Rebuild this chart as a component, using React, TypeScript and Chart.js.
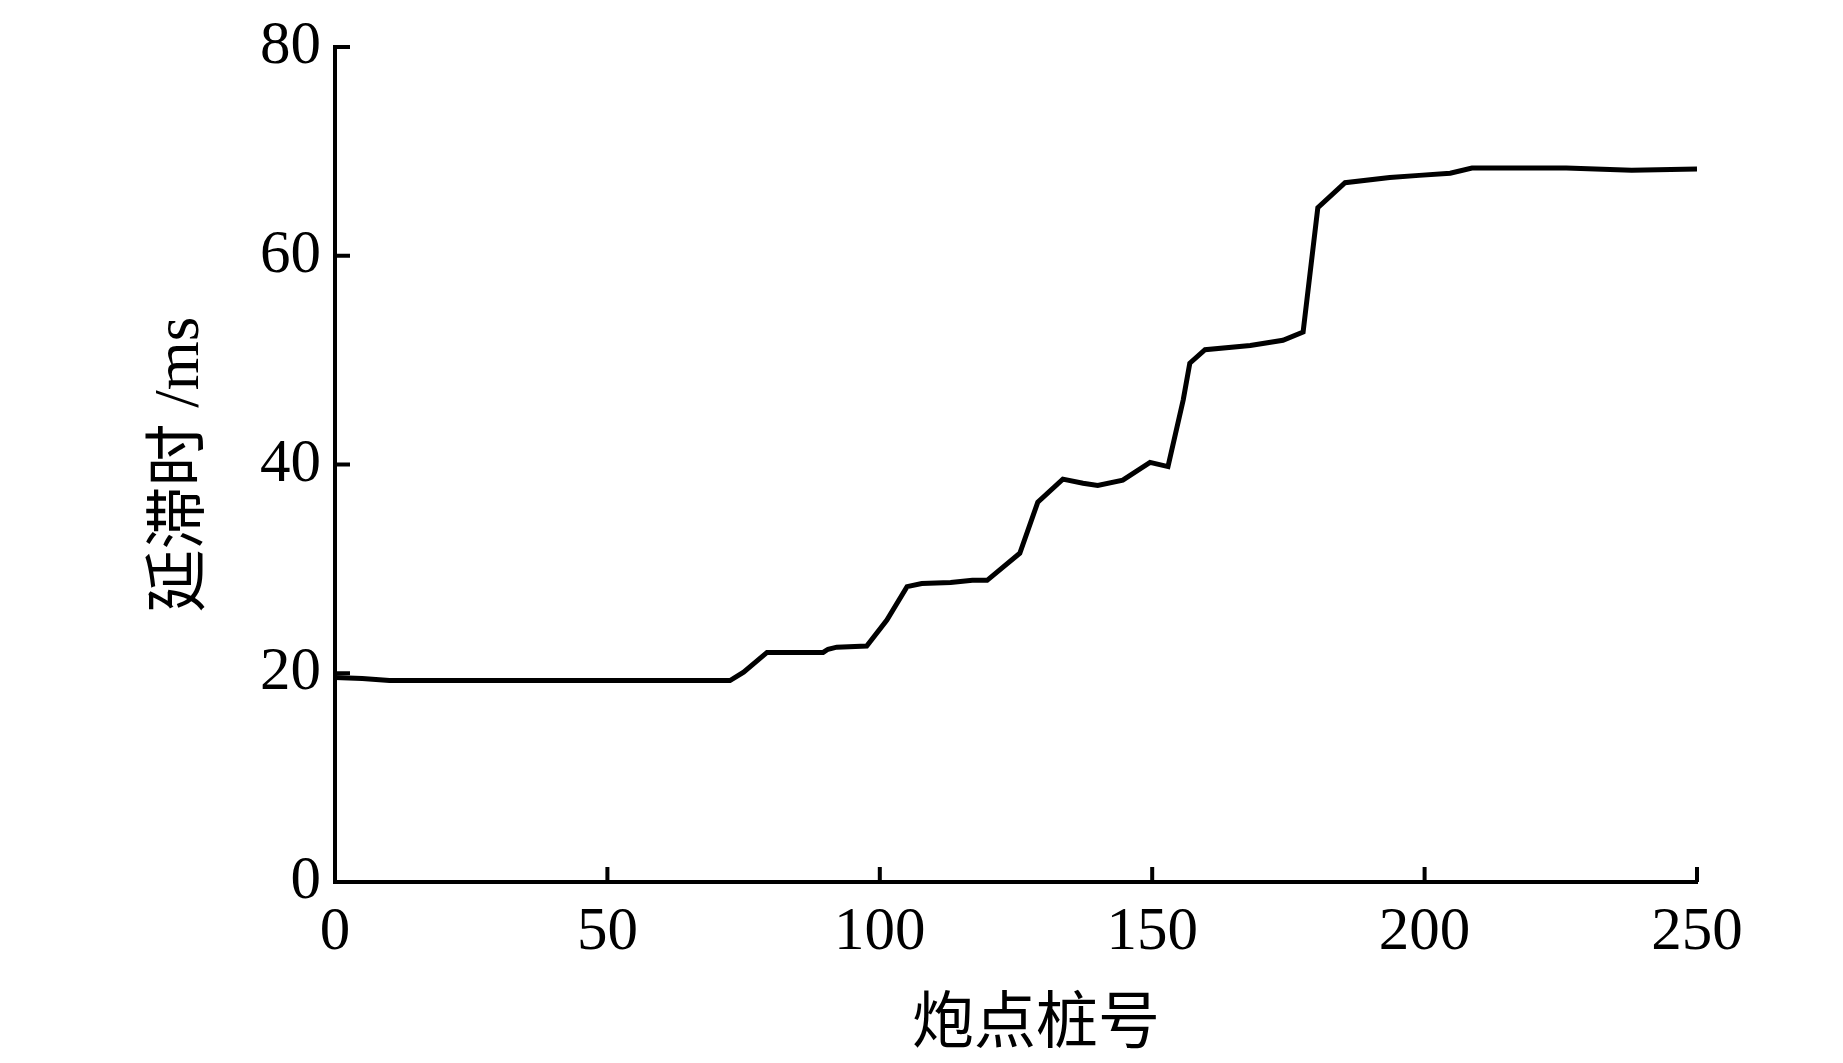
import React, { useEffect, useRef } from "react";
import { Chart, registerables } from "chart.js";

Chart.register(...registerables);

const shotStations = [0, 5, 10, 72.5, 75, 79.3, 89.6, 90.5, 92.1, 97.6, 101.3, 105, 107.7, 113, 117, 119.7, 125.7, 129, 133.6, 137.3, 140, 144.6, 149.6, 152.9, 155.7, 156.9, 159.7, 168, 174, 177.7, 180.4, 185.4, 193.6, 199, 204.7, 208.7, 226, 238, 250];
const delayMs = [19.6, 19.5, 19.3, 19.3, 20.1, 22.0, 22.0, 22.3, 22.5, 22.6, 25.1, 28.3, 28.6, 28.7, 28.9, 28.9, 31.5, 36.4, 38.6, 38.2, 38.0, 38.5, 40.2, 39.8, 46.2, 49.7, 51.0, 51.4, 51.9, 52.7, 64.6, 67.0, 67.5, 67.7, 67.9, 68.4, 68.4, 68.2, 68.3];
const xTicks = [0, 50, 100, 150, 200, 250];
const yTicks = [0, 20, 40, 60, 80];
const xTitle = "炮点桩号";
const yTitle = "延滞时 /ms";

const FONT = "'Liberation Serif', 'Times New Roman', 'Noto Sans CJK SC', serif";

const inwardTicks = {
  id: "inwardTicks",
  afterDraw(chart: any) {
    const { ctx, chartArea } = chart;
    const xs = chart.scales.x;
    const ys = chart.scales.y;
    ctx.save();
    ctx.strokeStyle = "#000";
    ctx.lineWidth = 4;
    ctx.lineCap = "butt";
    ctx.beginPath();
    xTicks.forEach((v) => {
      const px = xs.getPixelForValue(v);
      ctx.moveTo(px, chartArea.bottom);
      ctx.lineTo(px, chartArea.bottom - 15);
    });
    yTicks.forEach((v) => {
      const py = ys.getPixelForValue(v);
      ctx.moveTo(chartArea.left, py);
      ctx.lineTo(chartArea.left + 15, py);
    });
    ctx.stroke();
    // x-axis title
    ctx.fillStyle = "#000";
    ctx.font = "62px " + FONT;
    ctx.textAlign = "center";
    ctx.textBaseline = "middle";
    ctx.fillText(xTitle, (chartArea.left + chartArea.right) / 2 + 20, xs.bottom - 36);
    ctx.restore();
  },
};

export default function App() {
  const ref = useRef<HTMLCanvasElement | null>(null);
  useEffect(() => {
    if (!ref.current) return;
    const chart = new Chart(ref.current, {
      type: "line",
      data: {
        datasets: [
          {
            data: shotStations.map((x, i) => ({ x, y: delayMs[i] })),
            borderColor: "#000",
            borderWidth: 5,
            pointRadius: 0,
            tension: 0,
            fill: false,
          },
        ],
      },
      options: {
        responsive: false,
        animation: false,
        layout: { padding: { top: 47, right: 146, left: 0, bottom: 0 } },
        plugins: { legend: { display: false }, tooltip: { enabled: false } },
        scales: {
          x: {
            type: "linear",
            min: 0,
            max: 250,
            afterFit: (s: any) => {
              s.height = 181;
              s.paddingLeft = 0;
              s.paddingRight = 0;
            },
            afterBuildTicks: (s: any) => {
              s.ticks = xTicks.map((v) => ({ value: v }));
            },
            grid: { display: false, drawTicks: false },
            border: { display: true, color: "#000", width: 4 },
            ticks: {
              color: "#000",
              padding: 14,
              maxRotation: 0,
              font: { family: FONT, size: 61 },
            },
            title: { display: false },
          },
          y: {
            type: "linear",
            min: 0,
            max: 80,
            afterFit: (s: any) => {
              s.width = 335;
              s.paddingTop = 0;
              s.paddingBottom = 0;
            },
            afterBuildTicks: (s: any) => {
              s.ticks = yTicks.map((v) => ({ value: v }));
            },
            grid: { display: false, drawTicks: false },
            border: { display: true, color: "#000", width: 4 },
            ticks: {
              color: "#000",
              padding: 14,
              font: { family: FONT, size: 61 },
            },
            title: {
              display: true,
              text: yTitle,
              color: "#000",
              font: { family: FONT, size: 63, lineHeight: 1.2 },
              padding: { top: 144, bottom: 0 },
            },
          },
        },
      },
      plugins: [inwardTicks],
    });
    return () => chart.destroy();
  }, []);
  return (
    <div style={{ position: "absolute", left: 0, top: 0, width: 1843, height: 1063, background: "#fff" }}>
      <canvas ref={ref} width={1843} height={1063} style={{ width: 1843, height: 1063, display: "block" }} />
    </div>
  );
}
